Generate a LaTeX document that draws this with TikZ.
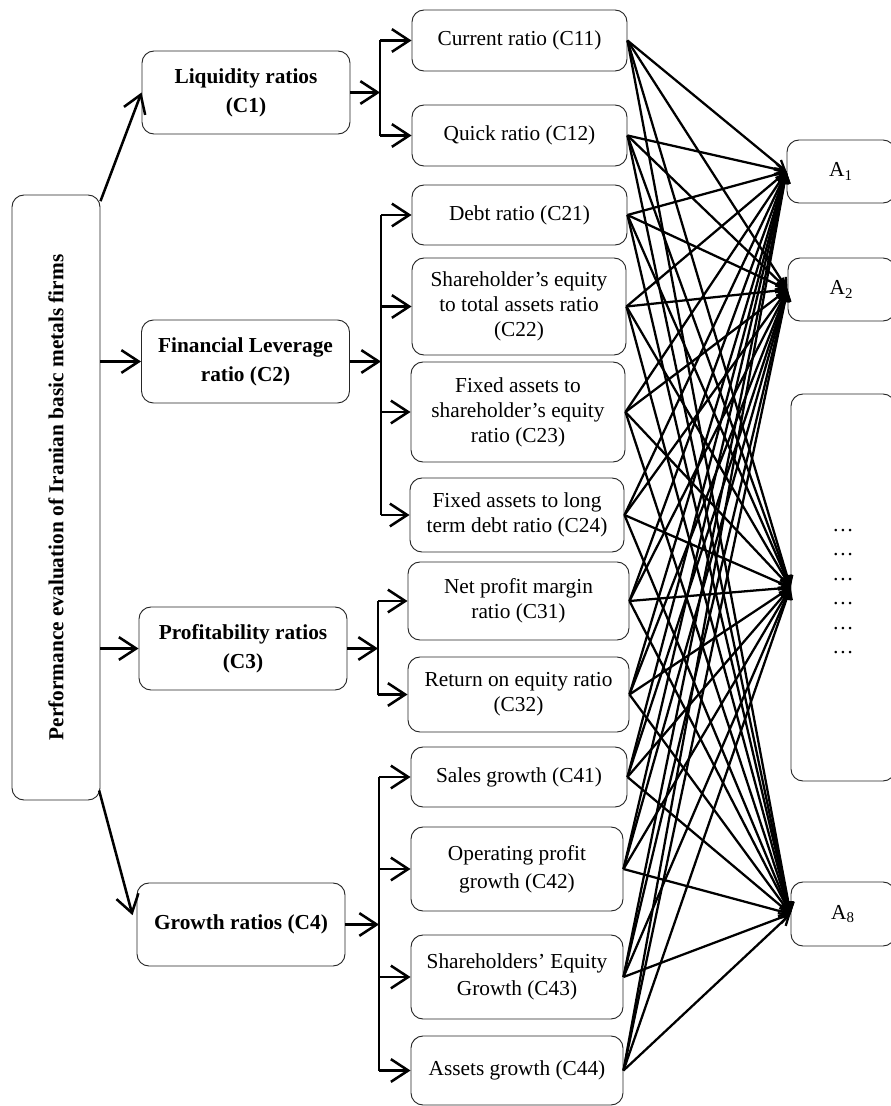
\documentclass[tikz,border=0pt]{standalone}
\usepackage{fontspec}
\setmainfont{Liberation Serif}
\usetikzlibrary{arrows.meta,calc}
\begin{document}
\begin{tikzpicture}[x=0.75pt,y=-0.75pt,
  box/.style={draw=black!85, line width=0.7pt, rounded corners=9pt, align=center, inner sep=0pt, font=\fontsize{16}{18.75}\selectfont},
  cbox/.style={box, minimum width=156pt, minimum height=62.25pt, font=\fontsize{16}{21.75}\selectfont\bfseries},
  abox/.style={box, font=\fontsize{16}{18.4}\selectfont},
  thk/.style={line width=1.9pt},
  bigarr/.style={line width=1.9pt, -{Straight Barb[length=13pt,width=17pt]}},
  fan/.style={line width=1.7pt, -{Straight Barb[length=7pt,width=8pt]}}
]
\useasboundingbox (0,0) rectangle (891,1106);
\clip (0,0) rectangle (891,1106);
\fill[white] (0,0) rectangle (891,1106);

% root
\node[box, minimum width=66pt, minimum height=453.75pt, font=\fontsize{16}{18}\selectfont\bfseries] (root) at (56,497.5)
  {\rotatebox{90}{Performance evaluation of Iranian basic metals firms}};

% criteria
\node[cbox] (C1) at (246,92.5) {Liquidity ratios\\(C1)};
\node[cbox] (C2) at (245.5,361.5) {Financial Leverage\\ratio (C2)};
\node[cbox] (C3) at (243,648.5) {Profitability ratios\\(C3)};
\node[cbox] (C4) at (241,924.5) {Growth ratios (C4)};

% sub-criteria
\node[box, minimum width=161.25pt, minimum height=45.75pt] (C11) at (519.5,40.5) {Current ratio (C11)};
\node[box, minimum width=161.25pt, minimum height=45.75pt] (C12) at (519.5,135.5) {Quick ratio (C12)};
\node[box, minimum width=161.25pt, minimum height=45pt] (C21) at (519.5,215) {Debt ratio (C21)};
\node[box, minimum width=160.5pt, minimum height=72.75pt] (C22) at (519,306.5) {Shareholder’s equity\\to total assets ratio\\(C22)};
\node[box, minimum width=160.5pt, minimum height=75pt] (C23) at (518,412) {Fixed assets to\\shareholder’s equity\\ratio (C23)};
\node[box, minimum width=160.5pt, minimum height=55.5pt] (C24) at (517,515) {Fixed assets to long\\term debt ratio (C24)};
\node[box, minimum width=165.75pt, minimum height=58.5pt] (C31) at (518.5,601) {Net profit margin\\ratio (C31)};
\node[box, minimum width=165.75pt, minimum height=56.25pt] (C32) at (518.5,694.5) {Return on equity ratio\\(C32)};
\node[box, minimum width=162pt, minimum height=45pt] (C41) at (519,777) {Sales growth (C41)};
\node[box, minimum width=159pt, minimum height=63pt, font=\fontsize{16}{21}\selectfont] (C42) at (517,869) {Operating profit\\growth (C42)};
\node[box, minimum width=159pt, minimum height=63pt, font=\fontsize{16}{20.5}\selectfont] (C43) at (517,977) {Shareholders’ Equity\\Growth (C43)};
\node[box, minimum width=159pt, minimum height=51.75pt] (C44) at (517,1070.5) {Assets growth (C44)};

% alternatives
\node[abox, minimum width=81pt, minimum height=47.25pt] (A1) at (841,171.5) {A\textsubscript{1}};
\node[abox, minimum width=80.25pt, minimum height=47.25pt] (A2) at (841.5,289.5) {A\textsubscript{2}};
\node[abox, minimum width=78pt, minimum height=290.25pt] (Ax) at (843,587.5)
  {\raisebox{-7pt}{\begin{tabular}{@{}c@{}}…\\…\\…\\…\\…\\…\end{tabular}}};
\node[abox, minimum width=78pt, minimum height=48pt] (A8) at (843,914) {A\textsubscript{8}};

% root to criteria
\draw[bigarr] ([yshift=-5pt]root.north east) -- (C1.west);
\draw[bigarr] (C2.west -| root.east) -- (C2.west);
\draw[bigarr] (C3.west -| root.east) -- (C3.west);
\draw[bigarr] ([xshift=-1pt,yshift=7.5pt]root.south east) -- ([xshift=-3pt,yshift=7pt]C4.west);

% brackets
\coordinate (b1) at (380,0);
\coordinate (b2) at (381,0);
\coordinate (b3) at (378,0);
\coordinate (b4) at (379,0);

\draw[thk] (b1 |- C11) -- (b1 |- C12);
\draw[bigarr] (C1.east) -- (C1.east -| b1);
\foreach \s in {C11,C12} \draw[bigarr] (b1 |- \s.west) -- (\s.west);

\draw[thk] (b2 |- C21) -- (b2 |- C24);
\draw[bigarr] (C2.east) -- (C2.east -| b2);
\foreach \s in {C21,C22,C23,C24} \draw[bigarr] (b2 |- \s.west) -- (\s.west);

\draw[thk] (b3 |- C31) -- (b3 |- C32);
\draw[bigarr] (C3.east) -- (C3.east -| b3);
\foreach \s in {C31,C32} \draw[bigarr] (b3 |- \s.west) -- (\s.west);

\draw[thk] (b4 |- C41) -- (b4 |- C44);
\draw[bigarr] (C4.east) -- (C4.east -| b4);
\foreach \s in {C41,C42,C43,C44} \draw[bigarr] (b4 |- \s.west) -- (\s.west);

% fan of connectors
\foreach \s in {C11,C12,C21,C22,C23,C24,C31,C32,C41,C42,C43,C44}
  \foreach \t in {A1,A2,Ax,A8}
    \draw[fan] (\s.east) -- (\t.west);
\end{tikzpicture}
\end{document}
